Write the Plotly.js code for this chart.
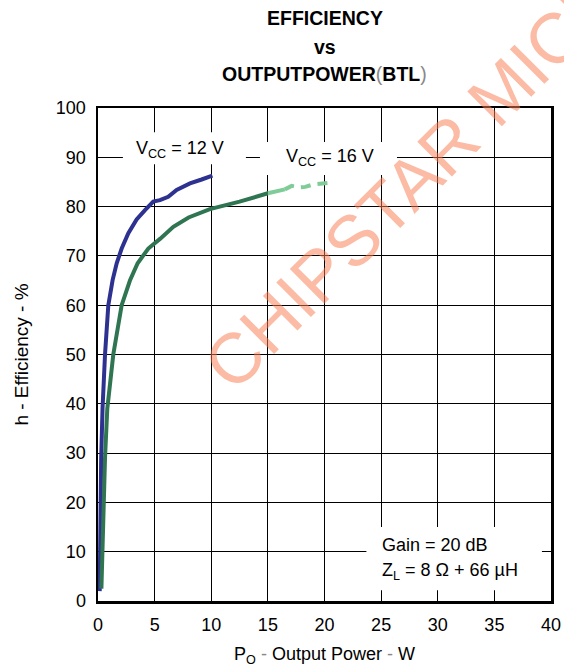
<!DOCTYPE html>
<html>
<head>
<meta charset="utf-8">
<script src="https://cdn.plot.ly/plotly-3.0.1.min.js"></script>
<style>
  html, body { margin: 0; padding: 0; background: #fff; }
  #chart { width: 564px; height: 668px; }
</style>
</head>
<body>
<div id="chart"></div>
<script>
// --- Datos ---
// VCC = 12 V (azul)
const p12 = [0.15, 0.18, 0.22, 0.28, 0.40, 0.62, 0.91, 1.29, 1.65, 2.09, 2.68, 3.41, 4.15, 4.88, 5.47, 6.2, 6.94, 8.12, 9.15, 10.1];
const eff12 = [2, 10, 19, 29, 39, 50, 60, 65.1, 68.5, 71.5, 74.6, 77.4, 79.3, 81.0, 81.3, 82.0, 83.4, 84.7, 85.5, 86.3];

// VCC = 16 V (verde oscuro)
const p16 = [0.3, 0.35, 0.47, 0.62, 0.82, 1.35, 2.09, 2.82, 3.5, 4.44, 5.5, 6.65, 8.0, 9.88, 12.5, 15.0];
const eff16 = [2.5, 8, 19, 29, 39, 50, 60, 65, 68.5, 71.5, 73.5, 75.9, 77.8, 79.5, 81, 82.7];

// VCC = 16 V, tramo claro (sólido y luego discontinuo)
const p16Light = [15.0, 16.5];
const eff16Light = [82.7, 83.5];
const p16Dash = [16.5, 17.1, 17.7, 18.3, 19.0, 20.8];
const eff16Dash = [83.5, 84.2, 83.9, 84.0, 84.5, 84.9];

const xTicks = [0, 5, 10, 15, 20, 25, 30, 35, 40];
const yTicks = [0, 10, 20, 30, 40, 50, 60, 70, 80, 90, 100];

const FONT = 'Liberation Sans, Arial, Helvetica, sans-serif';

const data = [
    { x: p12, y: eff12, mode: 'lines', line: { color: '#2d318f', width: 4 }, showlegend: false },
    { x: p16, y: eff16, mode: 'lines', line: { color: '#2f7552', width: 4 }, showlegend: false },
    { x: p16Light, y: eff16Light, mode: 'lines', line: { color: '#7fcc98', width: 4 }, showlegend: false },
    { x: p16Dash, y: eff16Dash, mode: 'lines', line: { color: '#7fcc98', width: 4, dash: '10px,7px' }, showlegend: false }
];

// Cajas blancas que tapan la cuadrícula detrás de las etiquetas
const whiteBox = (x0, x1, y0, y1) => ({
    type: 'rect', xref: 'x', yref: 'y', x0, x1, y0, y1,
    fillcolor: '#fff', line: { width: 0 }, layer: 'between'
});

const lbl = (text, x, y, extra) => Object.assign({
    text, x, y, xref: 'x', yref: 'y', showarrow: false,
    font: { family: FONT, size: 18, color: '#000' }
}, extra || {});

const titleLine = (text, y) => ({
    text, x: 0.5, y, xref: 'paper', yref: 'paper', showarrow: false,
    xanchor: 'center', yanchor: 'middle',
    font: { family: FONT, size: 19.5, color: '#000', weight: 'bold' }
});

const paren = s => `<span style="font-weight:normal;color:#888">${s}</span>`;

const layout = {
    width: 564,
    height: 668,
    paper_bgcolor: '#fff',
    plot_bgcolor: '#fff',
    margin: { l: 98, r: 13, t: 108, b: 67 },
    font: { family: FONT, size: 18, color: '#000' },
    xaxis: {
        range: [0, 40],
        tickvals: xTicks,
        ticks: '',
        showgrid: true, gridcolor: '#000', gridwidth: 1,
        zeroline: false,
        showline: true, linecolor: '#000', linewidth: 2.5, mirror: true,
        tickfont: { family: FONT, size: 18, color: '#000' },
        ticklabelstandoff: 6,
        title: {
            text: `P<sub>O</sub> ${paren('-')} Output Power ${paren('-')} W`,
            font: { family: FONT, size: 18, color: '#000' },
            standoff: 14
        }
    },
    yaxis: {
        range: [0, 100],
        tickvals: yTicks,
        ticks: '',
        showgrid: true, gridcolor: '#000', gridwidth: 1,
        zeroline: false,
        showline: true, linecolor: '#000', linewidth: 2.5, mirror: true,
        tickfont: { family: FONT, size: 18, color: '#000' },
        ticklabelstandoff: 6,
        title: {
            text: 'h - Efficiency - %',
            font: { family: FONT, size: 19, color: '#000' },
            standoff: 22
        }
    },
    shapes: [
        whiteBox(2.2, 13.06, 88.6, 95.1),
        whiteBox(14.3, 26.4, 86.4, 93.1),
        whiteBox(23.7, 39.2, 2.2, 15.0)
    ],
    annotations: [
        titleLine('EFFICIENCY', 1.1826),
        titleLine('vs', 1.1237),
        titleLine(`OUTPUTPOWER${paren('(')}BTL${paren(')')}`, 1.069),
        lbl('V<sub>CC</sub> = 12 V', 7.24, 91.6),
        lbl('V<sub>CC</sub> = 16 V', 20.5, 89.9),
        lbl('Gain = 20 dB', 24.9, 11.4, { xanchor: 'left' }),
        lbl('Z<sub>L</sub> = 8 Ω + 66 µH', 24.9, 5.9, { xanchor: 'left' }),
        // marca de agua
        {
            text: 'CHIPSTAR MICRO', x: 0.737, y: 0.892, xref: 'paper', yref: 'paper',
            showarrow: false, textangle: -45, xanchor: 'center', yanchor: 'middle',
            font: { family: FONT, size: 71, color: 'rgba(247,125,80,0.52)' }
        }
    ]
};

Plotly.newPlot('chart', data, layout, { displayModeBar: false, staticPlot: true });
</script>
</body>
</html>
